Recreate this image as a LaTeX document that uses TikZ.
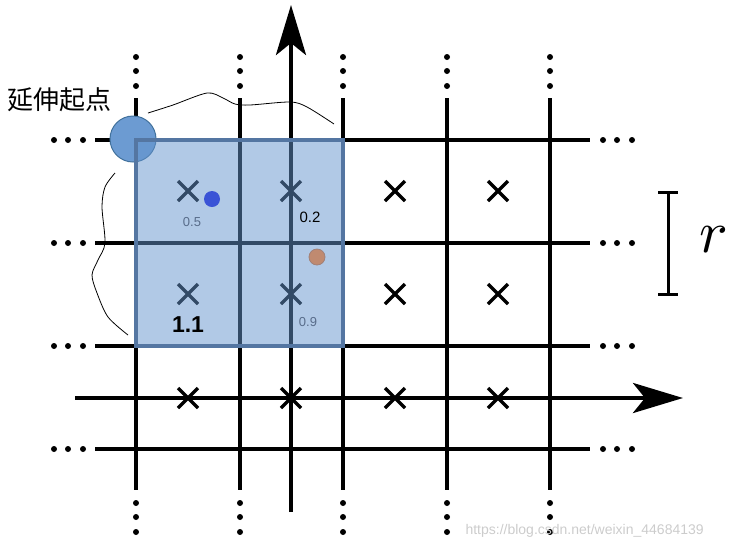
\documentclass[tikz,border=0pt]{standalone}
\usepackage{fix-cm}
\usepackage{fontspec}
\setmainfont{Liberation Sans}
\newfontfamily\cjk{Noto Sans CJK SC}
\usetikzlibrary{arrows.meta}
\definecolor{cellblue}{RGB}{100,148,205}
\definecolor{celledge}{RGB}{84,118,162}
\definecolor{startblue}{RGB}{108,155,210}
\definecolor{startedge}{RGB}{65,113,156}
\definecolor{ptblue}{RGB}{58,83,214}
\definecolor{ptbrown}{RGB}{192,138,112}
\definecolor{labgray}{RGB}{88,108,138}

\begin{document}
\begin{tikzpicture}[x=1pt,y=-1pt,
  gridline/.style={line width=3.5pt},
  axis/.style={line width=4.5pt,-{Stealth[length=50pt,width=30pt,inset=12pt]}},
  cross/.style={line width=3.4pt},
  dotsym/.style={circle,fill,inner sep=0pt,minimum size=6pt},
  small/.style={font=\fontsize{13}{15}\selectfont,text=labgray},
  brace/.style={line width=0.8pt}]
\useasboundingbox (0,0) rectangle (742,550);

% grid with dots
\foreach \y in {140,243,346,449}{
  \draw[gridline] (95,\y) -- (590,\y);
  \foreach \x in {54,68,83,603,617,632} \node[dotsym] at (\x,\y) {};
}
\foreach \x in {136,240,343,447,550}{
  \draw[gridline] (\x,98) -- (\x,490);
  \foreach \y in {57,71,86,503,517,532} \node[dotsym] at (\x,\y) {};
}

% axes
\coordinate (xs) at (75,398);  \coordinate (xe) at (683,398);
\coordinate (ys) at (291,512); \coordinate (ye) at (291,5);
\draw[axis] (xs) -- (xe);
\draw[axis] (ys) -- (ye);

% cell centres
\foreach \x in {188,291,395,498}
  \foreach \y in {191,294,398}
    \draw[cross] (\x-10,\y-10) -- (\x+10,\y+10) (\x-10,\y+10) -- (\x+10,\y-10);

% start circle and window
\draw[startedge,fill=startblue,line width=1pt] (133,139) circle (23pt);
\fill[cellblue,fill opacity=0.5] (136,140) rectangle (343,346);
\draw[celledge,line width=3.5pt] (136,140) rectangle (343,346);

% points
\fill[ptblue] (212,199) circle (8pt);
\draw[fill=ptbrown,draw=ptbrown!70!labgray,line width=0.8pt] (317,257) circle (8pt);

% labels
\node[small] (d1) at (192,222) {0.5};
\node[font=\fontsize{15}{17}\selectfont] (d2) at (310,217) {0.2};
\node[font=\fontsize{23}{25}\selectfont\bfseries] (d3) at (188,325) {1.1};
\node[small] (d4) at (308,322) {0.9};
\node[font=\cjk\fontsize{26}{30}\selectfont] (start) at (60,100) {延伸起点};

% braces
\draw[brace] plot[smooth] coordinates {(148,113) (173,105) (207,93) (223,98) (235,104) (250,105) (290,102) (307,107) (334,124)};
\draw[brace] plot[smooth] coordinates {(115,173) (105,187) (102,207) (105,243) (98,260) (92,275) (97,293) (108,317) (128,335)};

% scale r
\coordinate (rt) at (668,192); \coordinate (rb) at (668,294);
\draw[line width=3pt] (rt) -- (rb) ([xshift=-10pt]rt) -- ([xshift=10pt]rt) ([xshift=-10pt]rb) -- ([xshift=10pt]rb);
\node[scale=6] (r) at (714,240) {$r$};

\node[text=gray!40,font=\fontsize{14}{16}\selectfont,anchor=west] (wm) at (462,531) {https://blog.csdn.net/weixin\_44684139};
\end{tikzpicture}
\end{document}
